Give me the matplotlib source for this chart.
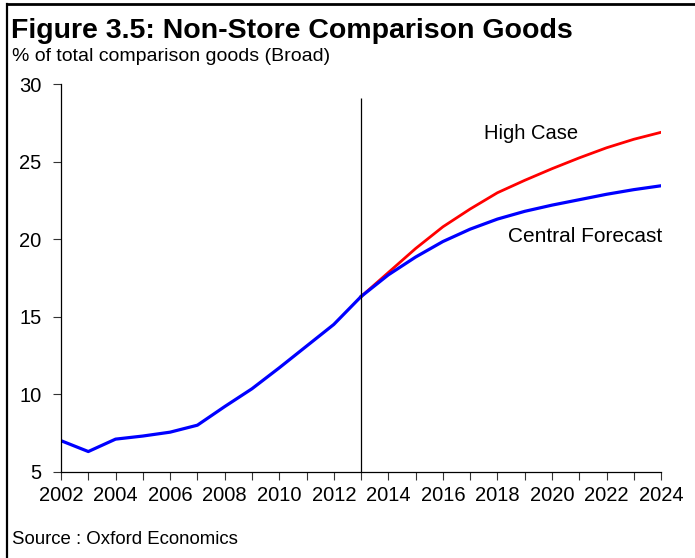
import matplotlib
matplotlib.use("Agg")
import matplotlib.pyplot as plt
from matplotlib.lines import Line2D

plt.rcParams['font.family'] = ['Liberation Sans', 'DejaVu Sans']

# history up to 2013, then two forecast paths
years_hist = [2002, 2003, 2004, 2005, 2006, 2007, 2008, 2009, 2010, 2011, 2012, 2013]
share_hist = [7.0, 6.3, 7.1, 7.3, 7.55, 8.0, 9.2, 10.35, 11.7, 13.1, 14.5, 16.3]

years_fc = [2013, 2014, 2015, 2016, 2017, 2018, 2019, 2020, 2021, 2022, 2023, 2024]
central = [16.3, 17.7, 18.85, 19.85, 20.65, 21.3, 21.8, 22.2, 22.55, 22.9, 23.2, 23.45]
high = [16.3, 17.85, 19.4, 20.8, 21.95, 23.0, 23.8, 24.55, 25.25, 25.9, 26.45, 26.9]

xticks = list(range(2002, 2025, 2))
yticks = [5, 10, 15, 20, 25, 30]

fig = plt.figure(figsize=(6.95, 5.58), dpi=100)
ax = fig.add_axes([0.0878, 0.1547, 0.8634, 0.6943])

ax.plot(years_hist, share_hist, color='#0000ff', lw=2.3, solid_joinstyle='round')
ax.plot(years_fc, high, color='#ff0000', lw=2.0, solid_joinstyle='round')
ax.plot(years_fc, central, color='#0000ff', lw=2.3, solid_joinstyle='round')
ax.vlines(2013, 5, 29.1, color='black', lw=0.9)

ax.set_xlim(2002, 2024)
ax.set_ylim(5, 30)
ax.set_xticks(xticks)
ax.set_xticks(range(2002, 2025), minor=True)
ax.set_yticks(yticks)
ax.tick_params(axis='both', which='both', direction='out', length=6, width=0.8,
               labelsize=14.5, color='#333333')
ax.tick_params(axis='x', pad=4)
ax.tick_params(axis='y', pad=8)
for s in ('top', 'right'):
    ax.spines[s].set_visible(False)
for s in ('left', 'bottom'):
    ax.spines[s].set_linewidth(0.9)

ax.text(2019.25, 26.85, 'High Case', fontsize=14.5, ha='center', va='center')
ax.text(2024.05, 20.2, 'Central Forecast', fontsize=15, ha='right', va='center')

fig.text(0.016, 0.945, 'Figure 3.5: Non-Store Comparison Goods', fontsize=20.5,
         fontweight='bold', ha='left', va='center')
fig.text(0.017, 0.899, '% of total comparison goods (Broad)', fontsize=14,
         ha='left', va='center')
fig.text(0.017, 0.034, 'Source : Oxford Economics', fontsize=13.4,
         ha='left', va='center')

# frame lines along top and left edge
fig.add_artist(Line2D([0.01, 1.0], [0.9935, 0.9935], color='black', lw=2,
                      transform=fig.transFigure))
fig.add_artist(Line2D([0.01, 0.01], [0.0, 0.9935], color='black', lw=1.6,
                      transform=fig.transFigure))

fig.savefig('out.png', dpi=100)
